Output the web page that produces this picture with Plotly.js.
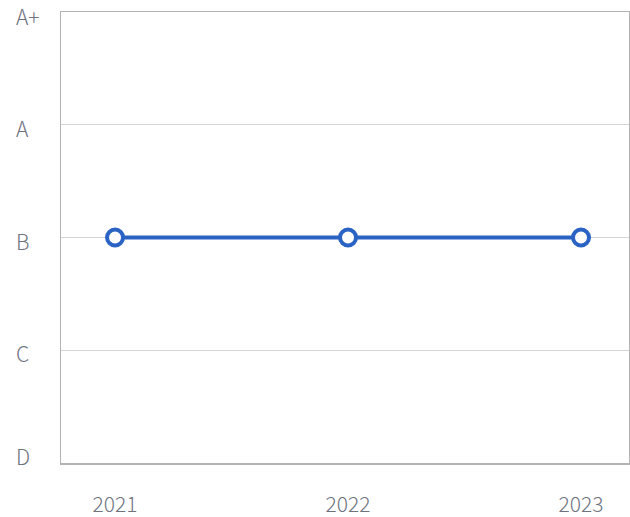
<!DOCTYPE html>
<html>
<head>
<meta charset="utf-8">
<script src="https://cdn.plot.ly/plotly-3.0.1.min.js"></script>
<style>html,body{margin:0;padding:0;background:#fff;}#chart{width:630px;height:517px;}</style>
</head>
<body>
<div id="chart"></div>
<script>
const years = [2021, 2022, 2023];
const gradeLabels = ['D', 'C', 'B', 'A', 'A+'];
const gradeValues = ['B', 'B', 'B'];

const yVals = gradeValues.map(g => gradeLabels.indexOf(g));
const font = {family: '"Noto Sans CJK KR", "Noto Sans", sans-serif', size: 21, color: '#6f7380', weight: 300};

const annotations = gradeLabels.map((g, i) => ({
  text: g, xref: 'paper', yref: 'y', x: -0.083, y: i,
  xanchor: 'left', yanchor: 'middle', showarrow: false, font: font,
  yshift: i === 0 ? 7 : (i === gradeLabels.length - 1 ? -4 : -3)
}));

const trace = {
  x: years, y: yVals, type: 'scatter', mode: 'lines+markers',
  line: {color: '#2b63c4', width: 4},
  marker: {size: 16, color: '#ffffff', line: {color: '#2b63c4', width: 4}},
  hoverinfo: 'skip'
};

const layout = {
  width: 630, height: 517,
  margin: {l: 61, r: 1, t: 12, b: 54},
  paper_bgcolor: '#fff', plot_bgcolor: '#fff',
  showlegend: false,
  font: font,
  xaxis: {
    range: [2020.768, 2023.206], tickvals: years, ticktext: years.map(String),
    showgrid: false, zeroline: false, ticks: '', ticklabelstandoff: 22,
    showline: true, linecolor: '#b3b3b3', linewidth: 1.5, mirror: true, tickfont: font
  },
  yaxis: {
    range: [0, gradeLabels.length - 1], tickvals: gradeLabels.map((_, i) => i),
    showticklabels: false, showgrid: true, gridcolor: '#d4d4d4', gridwidth: 1,
    zeroline: false, ticks: '',
    showline: true, linecolor: '#b3b3b3', linewidth: 1.5, mirror: true
  },
  annotations: annotations
};

Plotly.newPlot('chart', [trace], layout, {displayModeBar: false, staticPlot: true});
</script>
</body>
</html>
